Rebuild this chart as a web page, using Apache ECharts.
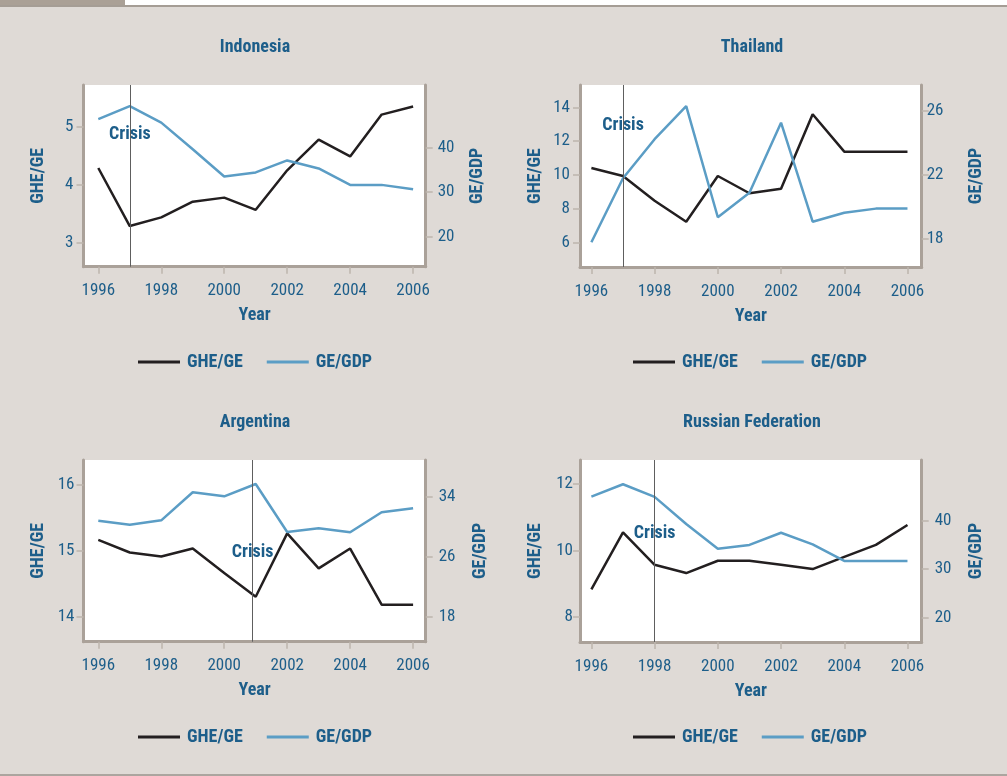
<!DOCTYPE html>
<html>
<head>
<meta charset="utf-8">
<script src="https://cdn.jsdelivr.net/npm/echarts@6/dist/echarts.min.js"></script>
<style>
  html, body { margin: 0; padding: 0; background: #dfdad6; }
  #chart { width: 1007px; height: 776px; }
</style>
</head>
<body>
<div id="chart"></div>
<script>
// ---- data ----
const years = [1996, 1997, 1998, 1999, 2000, 2001, 2002, 2003, 2004, 2005, 2006];
const yearTicks = [1996, 1998, 2000, 2002, 2004, 2006];
const countries = ['Indonesia', 'Thailand', 'Argentina', 'Russian Federation'];

// Government health expenditure as share of government expenditure (left axis)
const indonesiaGheGe = [4.29, 3.29, 3.44, 3.71, 3.78, 3.57, 4.25, 4.78, 4.49, 5.21, 5.35];
const thailandGheGe  = [10.41, 9.94, 8.48, 7.24, 9.94, 8.92, 9.19, 13.59, 11.38, 11.38, 11.38];
const argentinaGheGe = [15.16, 14.97, 14.91, 15.03, 14.66, 14.30, 15.26, 14.73, 15.03, 14.18, 14.18];
const russiaGheGe    = [8.83, 10.55, 9.57, 9.32, 9.69, 9.69, 9.57, 9.44, 9.81, 10.17, 10.77];

// Government expenditure as share of GDP (right axis)
const indonesiaGeGdp = [46.4, 49.3, 45.6, 39.6, 33.5, 34.4, 37.1, 35.3, 31.6, 31.6, 30.6];
const thailandGeGdp  = [17.75, 21.76, 24.21, 26.29, 19.32, 20.86, 25.25, 19.04, 19.6, 19.86, 19.86];
const argentinaGeGdp = [30.8, 30.27, 30.85, 34.59, 34.05, 35.69, 29.29, 29.79, 29.25, 31.92, 32.45];
const russiaGeGdp    = [44.95, 47.5, 44.9, 39.3, 34.2, 35.0, 37.5, 35.1, 31.7, 31.7, 31.7];

// Crisis year per country and the GHE/GE level where its label sits
const crisisYears = [1997, 1997, 2000.9, 1998];
const crisisLabelLevels = [4.87, 12.91, 14.97, 10.5];

// Axis tick labels
const gheTicks = [[3, 4, 5], [6, 8, 10, 12, 14], [14, 15, 16], [8, 10, 12]];
const geTicks  = [[20, 30, 40], [18, 22, 26], [18, 26, 34], [20, 30, 40]];

const gheSeries = [indonesiaGheGe, thailandGheGe, argentinaGheGe, russiaGheGe];
const geSeries  = [indonesiaGeGdp, thailandGeGdp, argentinaGeGdp, russiaGeGdp];

// ---- layout & style ----
const FONT = "'Roboto Condensed', Roboto, sans-serif";
const BLUE_TEXT = '#1d5e8a';
const LINE_BLACK = '#231f20';
const LINE_BLUE = '#5b9dc5';
const AXIS = '#aaa199';
const TICK = '#bdb5ad';

const panels = [
  { grid: { left: 83.5, top: 85, width: 342.2, height: 181.7 }, x: [1995.53, 2006.4], yL: [2.59, 5.72], yR: [13.2, 54.06],
    lMargin: 10, rMargin: 12, lGap: 36, rGap: 43, title: [255, 47], legend: [138, 353] },
  { grid: { left: 580, top: 85, width: 341.7, height: 182 }, x: [1995.64, 2006.45], yL: [4.56, 15.32], yR: [16.2, 27.61],
    lMargin: 10, rMargin: 5, lGap: 36, rGap: 45.5, title: [752, 47], legend: [633, 353] },
  { grid: { left: 83.5, top: 460, width: 342.2, height: 181.7 }, x: [1995.53, 2006.4], yL: [13.62, 16.37], yR: [14.67, 38.89],
    lMargin: 9, rMargin: 13, lGap: 36, rGap: 45.5, title: [255, 422], legend: [138, 728] },
  { grid: { left: 580, top: 460, width: 341.7, height: 182 }, x: [1995.64, 2006.45], yL: [7.24, 12.73], yR: [14.99, 52.5],
    lMargin: 7, rMargin: 13, lGap: 36, rGap: 45.5, title: [752, 422], legend: [633, 728] }
];

const labelText = { color: BLUE_TEXT, fontFamily: FONT, fontSize: 17 };
const nameText = { color: BLUE_TEXT, fontFamily: FONT, fontSize: 18, fontWeight: 'bold' };

const grids = [], xAxes = [], yAxes = [], series = [], legends = [], graphics = [];

panels.forEach((p, i) => {
  grids.push(Object.assign({ show: true, backgroundColor: '#ffffff', borderWidth: 0, containLabel: false, outerBoundsMode: 'none' }, p.grid));

  xAxes.push({
    type: 'value', gridIndex: i, min: p.x[0], max: p.x[1],
    name: 'Year', nameLocation: 'middle', nameGap: 40, nameTextStyle: nameText,
    axisLine: { show: true, onZero: false, lineStyle: { color: AXIS, width: 3 } },
    axisTick: { show: true, customValues: yearTicks, length: 7, lineStyle: { color: TICK, width: 1.5 } },
    axisLabel: { customValues: yearTicks, margin: 16, formatter: v => String(v), ...labelText },
    splitLine: { show: false }
  });

  yAxes.push({
    type: 'value', gridIndex: i, position: 'left', min: p.yL[0], max: p.yL[1],
    name: 'GHE/GE', nameLocation: 'middle', nameGap: p.lGap, nameTextStyle: nameText,
    axisLine: { show: true, onZero: false, lineStyle: { color: AXIS, width: 3 } },
    axisTick: { show: true, customValues: gheTicks[i], length: 7, lineStyle: { color: TICK, width: 1.5 } },
    axisLabel: { customValues: gheTicks[i], margin: p.lMargin, formatter: v => String(v), ...labelText },
    splitLine: { show: false }
  });
  yAxes.push({
    type: 'value', gridIndex: i, position: 'right', min: p.yR[0], max: p.yR[1],
    name: 'GE/GDP', nameLocation: 'middle', nameGap: p.rGap, nameTextStyle: nameText,
    axisLine: { show: true, onZero: false, lineStyle: { color: AXIS, width: 3 } },
    axisTick: { show: true, customValues: geTicks[i], length: 7, lineStyle: { color: TICK, width: 1.5 } },
    axisLabel: { customValues: geTicks[i], margin: p.rMargin, formatter: v => String(v), ...labelText },
    splitLine: { show: false }
  });

  series.push({
    name: 'GHE/GE', type: 'line', xAxisIndex: i, yAxisIndex: 2 * i,
    data: years.map((y, k) => [y, gheSeries[i][k]]),
    showSymbol: false, symbol: 'none', color: LINE_BLACK,
    lineStyle: { color: LINE_BLACK, width: 2.5 }, animation: false, z: 3
  });
  series.push({
    name: 'GE/GDP', type: 'line', xAxisIndex: i, yAxisIndex: 2 * i + 1,
    data: years.map((y, k) => [y, geSeries[i][k]]),
    showSymbol: false, symbol: 'none', color: LINE_BLUE,
    lineStyle: { color: LINE_BLUE, width: 2.5 }, animation: false, z: 3
  });
  // crisis marker: vertical rule plus "Crisis" label
  series.push({
    name: 'Crisis', type: 'scatter', xAxisIndex: i, yAxisIndex: 2 * i,
    data: [[crisisYears[i], crisisLabelLevels[i]]],
    symbolSize: 0, silent: true, animation: false, z: 4,
    itemStyle: { opacity: 1, color: BLUE_TEXT },
    label: {
      show: true, position: 'inside', formatter: 'Crisis', color: BLUE_TEXT, opacity: 1,
      textBorderWidth: 0, textBorderColor: 'transparent',
      fontFamily: FONT, fontSize: 18, fontWeight: 'bold'
    },
    markLine: {
      silent: true, symbol: ['none', 'none'], animation: false,
      label: { show: false },
      lineStyle: { color: '#5e5e5e', width: 1, type: 'solid' },
      data: [{ xAxis: crisisYears[i] }]
    }
  });

  legends.push({
    left: p.legend[0], top: p.legend[1], padding: 0,
    data: ['GHE/GE', 'GE/GDP'], icon: 'rect', itemWidth: 42, itemHeight: 3, itemGap: 24,
    selectedMode: false,
    textStyle: { color: BLUE_TEXT, fontFamily: FONT, fontSize: 18, fontWeight: 'bold', padding: [0, 0, 0, 2] }
  });

  graphics.push({
    type: 'text', x: p.title[0], y: p.title[1], silent: true,
    style: { text: countries[i], align: 'center', verticalAlign: 'middle', fill: BLUE_TEXT, font: 'bold 18px ' + FONT }
  });
});

// page frame: tab at top left, rules at top and bottom
graphics.push(
  { type: 'rect', shape: { x: 0, y: 0, width: 125, height: 5 }, style: { fill: '#aaa096' }, silent: true },
  { type: 'rect', shape: { x: 125, y: 0, width: 882, height: 5 }, style: { fill: '#ffffff' }, silent: true },
  { type: 'rect', shape: { x: 0, y: 5, width: 1007, height: 2 }, style: { fill: '#a59d95' }, silent: true },
  { type: 'rect', shape: { x: 0, y: 774, width: 1007, height: 2 }, style: { fill: '#aba59f' }, silent: true }
);

const chart = echarts.init(document.getElementById('chart'), null, { renderer: 'canvas' });
chart.setOption({
  backgroundColor: '#dfdad6',
  animation: false,
  grid: grids,
  xAxis: xAxes,
  yAxis: yAxes,
  legend: legends,
  series: series,
  graphic: graphics
});
</script>
</body>
</html>
